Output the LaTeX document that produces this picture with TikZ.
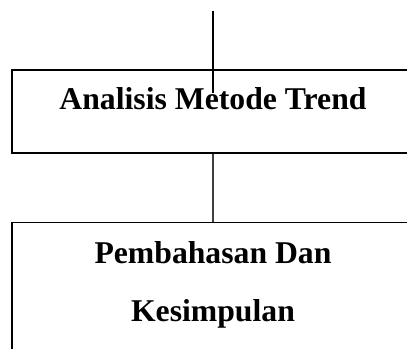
\documentclass[tikz,border=0pt]{standalone}
\usepackage{fontspec}
\setmainfont{Liberation Serif}
\begin{document}
\begin{tikzpicture}[x=1bp,y=-1bp,
  frame/.style={draw=black,line width=1.3bp,inner sep=0pt,minimum width=402bp},
  label/.style={inner sep=0pt,anchor=base,align=center,
    font=\fontsize{31.7bp}{58.4bp}\selectfont\bfseries},
  link/.style={line width=1.2bp}]
\useasboundingbox (0,0) rectangle (407,349);
\clip (0,0) rectangle (407,349);
\node[frame,minimum height=83bp] (box1) at (213,111.5) {};
\node[frame,minimum height=160bp] (box2) at (213,302.5) {};
\node[label] (t1) at (213,109) {Analisis Metode Trend};
\node[label] (t2) at (213,321.7) {Pembahasan Dan\\Kesimpulan};
\coordinate (in) at (213,10.7);
\coordinate (inend) at (213,93);
\draw[link,black] (in) -- (inend);
\draw[link,black!75] (box1.south) -- (box2.north);
\end{tikzpicture}
\end{document}
